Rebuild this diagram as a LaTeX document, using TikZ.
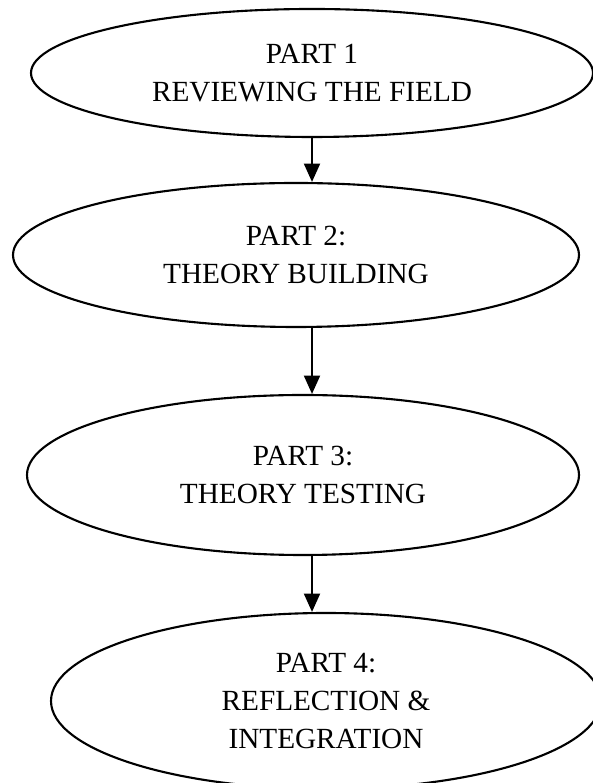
\documentclass[tikz,border=0pt]{standalone}
\usepackage{fontspec}
\setmainfont{Liberation Serif}
\usetikzlibrary{shapes.geometric,arrows.meta}

\begin{document}
\begin{tikzpicture}[
  part/.style={draw, ellipse, line width=1.5pt, inner sep=0pt, align=center,
    font=\fontsize{20.8}{27}\selectfont},
  flow/.style={-{Triangle[width=0.4cm,length=0.46cm]}, line width=1.5pt}]
\useasboundingbox (0,0) rectangle (14.8,19.575);
% the four parts
\node[part, minimum width=14.05cm, minimum height=3.2cm] (p1) at (7.8,17.75) {PART 1\\REVIEWING THE FIELD};
\node[part, minimum width=14.15cm, minimum height=3.6cm] (p2) at (7.4,13.2) {PART 2:\\THEORY BUILDING};
\node[part, minimum width=13.8cm, minimum height=4.0cm] (p3) at (7.575,7.7) {PART 3:\\THEORY TESTING};
\node[part, minimum width=13.75cm, minimum height=4.4cm] (p4) at (8.15,2.05) {PART 4:\\REFLECTION \&\\INTEGRATION};
% arrows
\draw[flow] (p1.south) -- (p2.north -| p1.south);
\draw[flow] (p2.south -| p1.south) -- (p3.north -| p1.south);
\draw[flow] (p3.south -| p1.south) -- (p4.north -| p1.south);
\end{tikzpicture}
\end{document}
